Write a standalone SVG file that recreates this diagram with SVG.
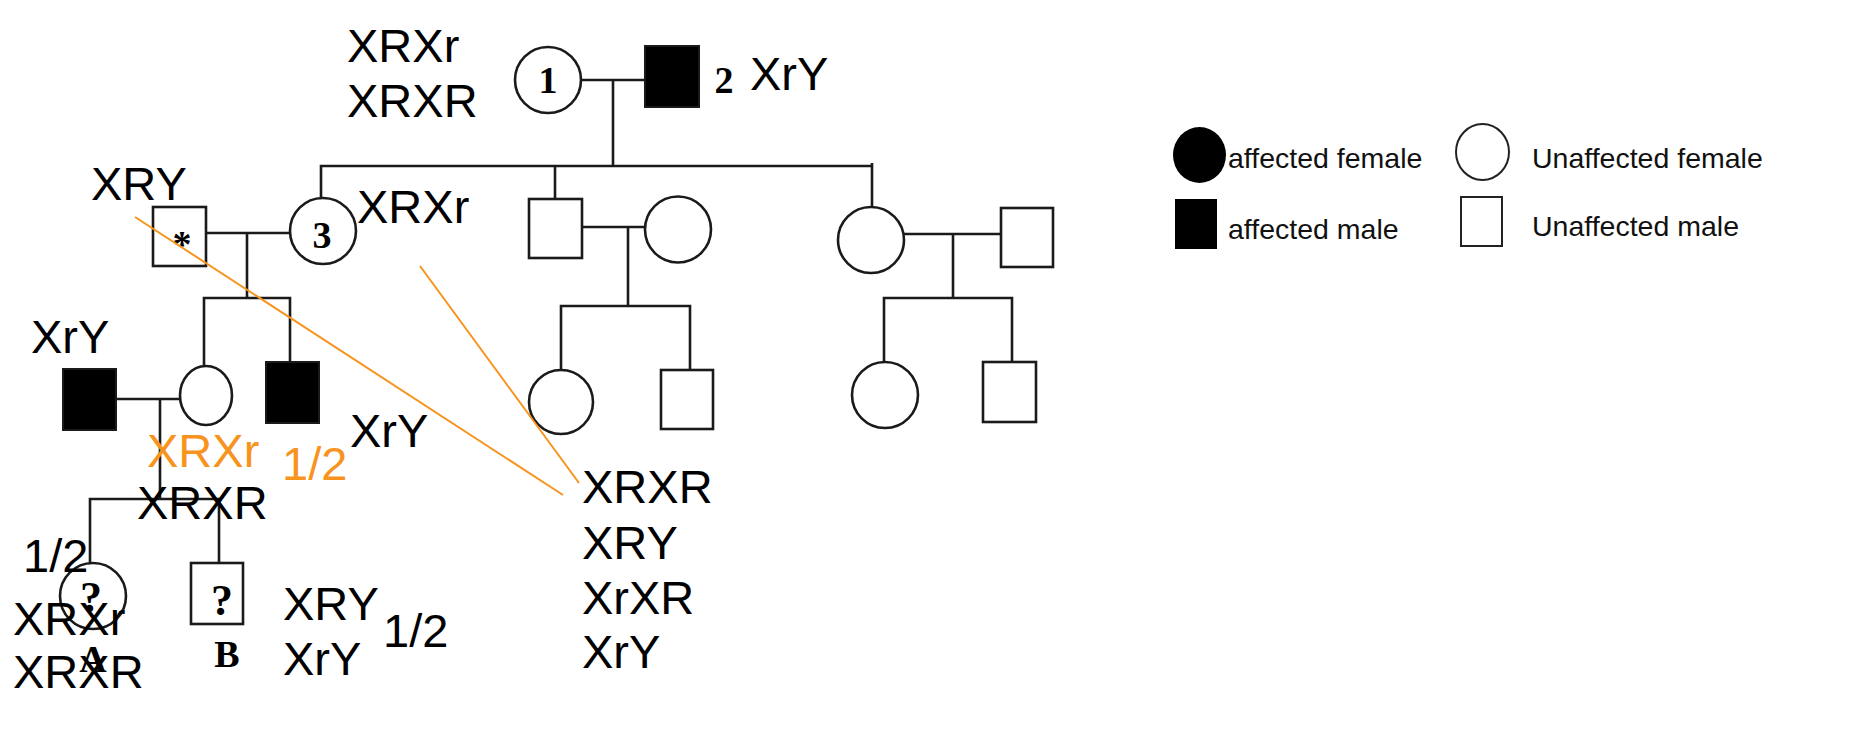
<svg xmlns="http://www.w3.org/2000/svg" width="1874" height="732" viewBox="0 0 1874 732">
<style>
.bg{fill:#fff}
.n{fill:#fff;stroke:#1a1a1a;stroke-width:2.6}
.a{fill:#000;stroke:#1a1a1a;stroke-width:2}
.c{fill:none;stroke:#1a1a1a;stroke-width:2.6}
.o{fill:none;stroke:#f7941d;stroke-width:2}
.g{font-family:"Liberation Sans",Arial,sans-serif;font-size:47px;fill:#000}
.go{font-family:"Liberation Sans",Arial,sans-serif;font-size:47px;fill:#f7941d}
.id{font-family:"Liberation Serif","Times New Roman",serif;font-weight:bold;font-size:38px;fill:#000;text-anchor:middle}
.q{font-size:44px}
.lg{font-family:"Liberation Sans",Arial,sans-serif;font-size:28.5px;fill:#111}
.ln{fill:#fff;stroke:#222;stroke-width:2}
</style>
<rect class="bg" x="0" y="0" width="1874" height="732"/>

<g id="connectors">
<path class="c" d="M581 80 H645"/>
<path class="c" d="M613 80 V166"/>
<path class="c" d="M321 198 V166 H872"/>
<path class="c" d="M872 163 V207"/>
<path class="c" d="M555 166 V199"/>
<path class="c" d="M206 233 H291"/>
<path class="c" d="M247 233 V298"/>
<path class="c" d="M204 366 V298 H290 V362"/>
<path class="c" d="M116 399 H180"/>
<path class="c" d="M160 399 V499"/>
<path class="c" d="M90 563 V499 H219 V563"/>
<path class="c" d="M582 227 H645"/>
<path class="c" d="M628 227 V306"/>
<path class="c" d="M561 370 V306 H690 V370"/>
<path class="c" d="M904 234 H1001"/>
<path class="c" d="M953 234 V298"/>
<path class="c" d="M884 362 V298 H1012 V362"/>
</g>

<g id="I-1"><circle class="n" cx="548" cy="80" r="33"/><text class="id" x="548" y="93">1</text></g>
<g id="I-2"><rect class="a" x="645" y="46" width="54" height="61"/><text class="id" x="724" y="93">2</text></g>
<g id="II-3"><circle class="n" cx="323" cy="231" r="33"/><text class="id" x="322" y="248">3</text></g>
<g id="II-spouse"><rect class="n" x="153" y="207" width="53" height="59"/><text class="id" x="182" y="257">*</text></g>
<g id="II-4"><rect class="n" x="529" y="199" width="53" height="59"/></g>
<g id="II-4-spouse"><circle class="n" cx="678" cy="229.5" r="33"/></g>
<g id="II-5"><circle class="n" cx="871" cy="240" r="33"/></g>
<g id="II-5-spouse"><rect class="n" x="1001" y="208" width="52" height="59"/></g>
<g id="III-husband"><rect class="a" x="63" y="369" width="53" height="61"/></g>
<g id="III-wife"><ellipse class="n" cx="206" cy="395.5" rx="26" ry="29.5"/></g>
<g id="III-brother"><rect class="a" x="266" y="362" width="53" height="61"/></g>
<g id="III-c1"><circle class="n" cx="561" cy="402" r="32"/></g>
<g id="III-c2"><rect class="n" x="661" y="370" width="52" height="59"/></g>
<g id="III-c3"><circle class="n" cx="885" cy="395" r="33"/></g>
<g id="III-c4"><rect class="n" x="983" y="362" width="53" height="60"/></g>
<g id="IV-A"><circle class="n" cx="93" cy="596" r="33"/><text class="id q" x="91" y="612">?</text><text class="id" x="93" y="672">A</text></g>
<g id="IV-B"><rect class="n" x="191" y="563" width="52" height="61"/><text class="id q" x="222" y="615">?</text><text class="id" x="227" y="667">B</text></g>

<g id="annotation-lines">
<path class="o" d="M135 217 L563 495"/>
<path class="o" d="M420 266 L579 483"/>
</g>

<g id="genotypes">
<text class="g" x="347" y="62">XRXr</text>
<text class="g" x="347" y="117">XRXR</text>
<text class="g" x="750" y="90">XrY</text>
<text class="g" x="91" y="200">XRY</text>
<text class="g" x="357" y="223">XRXr</text>
<text class="g" x="31" y="353">XrY</text>
<text class="go" x="147" y="467">XRXr</text>
<text class="go" x="282" y="480">1/2</text>
<text class="g" x="350" y="447">XrY</text>
<text class="g" x="137" y="519">XRXR</text>
<text class="g" x="23" y="572">1/2</text>
<text class="g" x="13" y="635">XRXr</text>
<text class="g" x="13" y="688">XRXR</text>
<text class="g" x="283" y="620">XRY</text>
<text class="g" x="283" y="675">XrY</text>
<text class="g" x="383" y="647">1/2</text>
<text class="g" x="582" y="503">XRXR</text>
<text class="g" x="582" y="559">XRY</text>
<text class="g" x="582" y="614">XrXR</text>
<text class="g" x="582" y="668">XrY</text>
</g>

<g id="legend">
<g id="legend-affected-female"><ellipse cx="1199.5" cy="155" rx="26.5" ry="28" fill="#000"/><text class="lg" x="1228" y="168">affected female</text></g>
<g id="legend-affected-male"><rect x="1175" y="199" width="42" height="50" fill="#000"/><text class="lg" x="1228" y="239">affected male</text></g>
<g id="legend-unaffected-female"><ellipse class="ln" cx="1482.5" cy="152" rx="26.5" ry="28"/><text class="lg" x="1532" y="168">Unaffected female</text></g>
<g id="legend-unaffected-male"><rect class="ln" x="1461" y="197" width="41" height="49"/><text class="lg" x="1532" y="236">Unaffected male</text></g>
</g>
</svg>
